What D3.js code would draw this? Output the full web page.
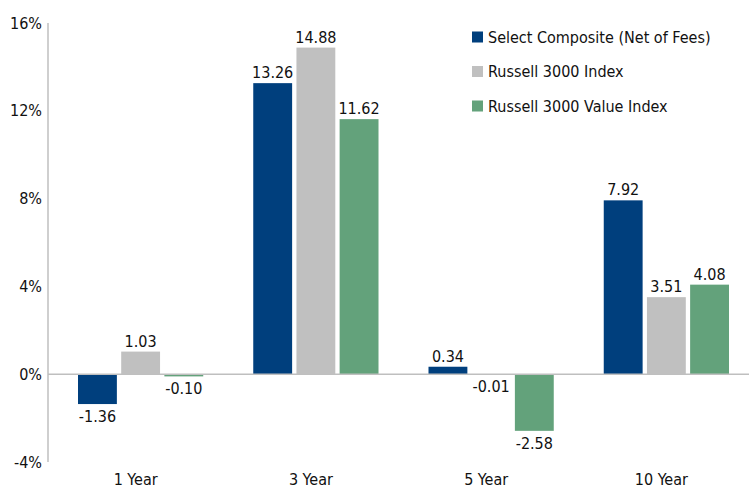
<!DOCTYPE html>
<html>
<head>
<meta charset="utf-8">
<script src="https://cdn.jsdelivr.net/npm/d3@7"></script>
<style>
  body { margin: 0; background: #fff; }
  text { font-family: "Liberation Sans Narrow", "DejaVu Sans Condensed", "Arial Narrow", sans-serif; fill: #111; }
</style>
</head>
<body>
<script>
let periods = ["1 Year", "3 Year", "5 Year", "10 Year"]
let seriesNames = ["Select Composite (Net of Fees)", "Russell 3000 Index", "Russell 3000 Value Index"]
let composite = [-1.36, 13.26, 0.34, 7.92]
let russell3000 = [1.03, 14.88, -0.01, 3.51]
let russellValue = [-0.10, 11.62, -2.58, 4.08]
let yTicks = [-4, 0, 4, 8, 12, 16]
let colors = ["#003f7d", "#c0c0c0", "#63a27b"]

let w = 749, h = 489
let margin = {left: 48, right: 0, top: 23, bottom: 27}
let allSeries = [composite, russell3000, russellValue]

let svg = d3.select("body").append("svg").attr("width", w).attr("height", h)

let x = d3.scaleBand().domain(periods).range([margin.left, w - margin.right])
let xi = d3.scaleBand().domain(d3.range(3)).range([30, x.bandwidth() - 20]).paddingInner(0.1)
let y = d3.scaleLinear().domain([-4, 16]).range([h - margin.bottom, margin.top])

// y axis line
svg.append("line")
   .attr("x1", margin.left).attr("x2", margin.left)
   .attr("y1", y(16)).attr("y2", y(-4))
   .attr("stroke", "#bfbfbf").attr("stroke-width", 1.5)

svg.selectAll("text.ytick")
   .data(yTicks)
   .enter().append("text")
   .attr("class", "ytick")
   .attr("x", margin.left - 6)
   .attr("y", d => y(d))
   .attr("dy", "0.35em")
   .attr("text-anchor", "end")
   .style("font-size", "16px")
   .text(d => d + "%")

let data = []
allSeries.forEach((s, si) => {
  s.forEach((v, pi) => data.push({period: periods[pi], s: si, v: v}))
})

svg.selectAll("rect.bar")
   .data(data)
   .enter().append("rect")
   .attr("class", "bar")
   .attr("x", d => x(d.period) + xi(d.s))
   .attr("width", xi.bandwidth())
   .attr("y", d => y(Math.max(0, d.v)))
   .attr("height", d => Math.abs(y(d.v) - y(0)))
   .attr("fill", d => colors[d.s])

// zero line
svg.append("line")
   .attr("x1", margin.left).attr("x2", w)
   .attr("y1", y(0)).attr("y2", y(0))
   .attr("stroke", "#bfbfbf").attr("stroke-width", 1.5)

svg.selectAll("text.val")
   .data(data)
   .enter().append("text")
   .attr("class", "val")
   .attr("x", d => x(d.period) + xi(d.s) + xi.bandwidth() / 2)
   .attr("y", d => d.v >= 0 ? y(d.v) - 5 : y(d.v) + 18)
   .attr("text-anchor", "middle")
   .style("font-size", "16px")
   .text(d => d.v.toFixed(2))

svg.selectAll("text.cat")
   .data(periods)
   .enter().append("text")
   .attr("class", "cat")
   .attr("x", d => x(d) + x.bandwidth() / 2)
   .attr("y", h - 4)
   .attr("text-anchor", "middle")
   .style("font-size", "16px")
   .text(d => d)

let legend = svg.append("g").attr("transform", "translate(472,37)")
let li = legend.selectAll("g").data(seriesNames).enter().append("g")
   .attr("transform", (d, i) => "translate(0," + i * 34.5 + ")")
li.append("rect").attr("x", 0).attr("y", -5.5).attr("width", 11).attr("height", 11)
   .attr("fill", (d, i) => colors[i])
li.append("text").attr("x", 16).attr("dy", "0.35em")
   .style("font-size", "16px")
   .text(d => d)
</script>
</body>
</html>
